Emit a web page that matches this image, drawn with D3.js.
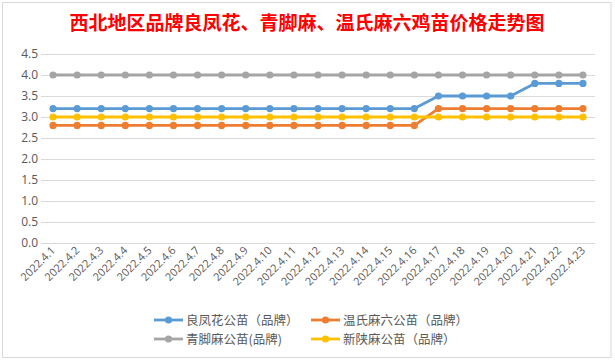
<!DOCTYPE html>
<html>
<head>
<meta charset="utf-8">
<script src="https://cdn.jsdelivr.net/npm/d3@7"></script>
<style>
  body { margin: 0; background: #fff; }
  text { font-family: "Noto Sans CJK SC", "Open Sans", sans-serif; }
</style>
</head>
<body>
<div id="content"></div>
<script>
// data
let dates = ["2022.4.1", "2022.4.2", "2022.4.3", "2022.4.4", "2022.4.5", "2022.4.6", "2022.4.7", "2022.4.8",
    "2022.4.9", "2022.4.10", "2022.4.11", "2022.4.12", "2022.4.13", "2022.4.14", "2022.4.15", "2022.4.16",
    "2022.4.17", "2022.4.18", "2022.4.19", "2022.4.20", "2022.4.21", "2022.4.22", "2022.4.23"];
let liangfenghua = [3.2, 3.2, 3.2, 3.2, 3.2, 3.2, 3.2, 3.2, 3.2, 3.2, 3.2, 3.2, 3.2, 3.2, 3.2, 3.2,
    3.5, 3.5, 3.5, 3.5, 3.8, 3.8, 3.8];
let wenshima = [2.8, 2.8, 2.8, 2.8, 2.8, 2.8, 2.8, 2.8, 2.8, 2.8, 2.8, 2.8, 2.8, 2.8, 2.8, 2.8,
    3.2, 3.2, 3.2, 3.2, 3.2, 3.2, 3.2];
let qingjiaoma = [4.0, 4.0, 4.0, 4.0, 4.0, 4.0, 4.0, 4.0, 4.0, 4.0, 4.0, 4.0, 4.0, 4.0, 4.0, 4.0,
    4.0, 4.0, 4.0, 4.0, 4.0, 4.0, 4.0];
let xinshanma = [3.0, 3.0, 3.0, 3.0, 3.0, 3.0, 3.0, 3.0, 3.0, 3.0, 3.0, 3.0, 3.0, 3.0, 3.0, 3.0,
    3.0, 3.0, 3.0, 3.0, 3.0, 3.0, 3.0];
let seriesNames = ["良凤花公苗（品牌）", "温氏麻六公苗（品牌）", "青脚麻公苗(品牌)", "新陕麻公苗（品牌）"];
let yTicks = [0, 0.5, 1, 1.5, 2, 2.5, 3, 3.5, 4, 4.5];

let colors = ["#5B9BD5", "#ED7D31", "#A5A5A5", "#FFC000"];
let series = [liangfenghua, wenshima, qingjiaoma, xinshanma];

let width = 615,
    height = 362;

let svg = d3.select("#content")
    .append("svg")
    .attr("width", width)
    .attr("height", height);

// chart frame
svg.append("rect")
    .attr("x", 2.5).attr("y", 2.5)
    .attr("width", 608.5).attr("height", 355)
    .attr("fill", "#fff")
    .attr("stroke", "#D9D9D9");

// title
svg.append("text")
    .attr("x", 307)
    .attr("y", 30)
    .attr("text-anchor", "middle")
    .style("font-size", "19px")
    .style("font-weight", "bold")
    .style("fill", "#FF0000")
    .text("西北地区品牌良凤花、青脚麻、温氏麻六鸡苗价格走势图");

let x = d3.scaleBand()
    .domain(dates)
    .range([41, 595]);

let y = d3.scaleLinear()
    .domain([0, 4.5])
    .range([243, 54]);

// gridlines + y labels
let yAxis = svg.append("g")
    .attr("transform", "translate(41,0)")
    .call(d3.axisLeft(y).tickValues(yTicks).tickFormat(d3.format(".1f"))
        .tickSize(-554).tickPadding(3));
yAxis.select(".domain").remove();
yAxis.selectAll(".tick line").attr("stroke", "#D9D9D9");
yAxis.selectAll(".tick text")
    .style("font-size", "12px")
    .style("font-family", "'Open Sans', sans-serif")
    .style("fill", "#595959");

// x labels, rotated
svg.append("g")
    .selectAll("text")
    .data(dates)
    .enter()
    .append("text")
    .attr("transform", d => "translate(" + (x(d) + x.bandwidth() / 2 + 3) + ",251) rotate(-45)")
    .attr("text-anchor", "end")
    .style("font-size", "11px")
    .style("font-family", "'Open Sans', sans-serif")
    .style("fill", "#595959")
    .text(d => d);

let line = d3.line()
    .x((d, i) => x(dates[i]) + x.bandwidth() / 2)
    .y(d => y(d));

series.forEach((s, k) => {
    let g = svg.append("g");
    g.append("path")
        .datum(s)
        .attr("d", line)
        .attr("fill", "none")
        .attr("stroke", colors[k])
        .attr("stroke-width", 2.8)
        .attr("stroke-linejoin", "round");
    g.selectAll("circle")
        .data(s)
        .enter()
        .append("circle")
        .attr("cx", (d, i) => x(dates[i]) + x.bandwidth() / 2)
        .attr("cy", d => y(d))
        .attr("r", 3.6)
        .attr("fill", colors[k]);
});

// legend
let legendPos = [[154, 320], [311, 320], [154, 339], [311, 339]];
let legend = svg.append("g")
    .selectAll("g")
    .data(seriesNames)
    .enter()
    .append("g")
    .attr("transform", (d, i) => "translate(" + legendPos[i][0] + "," + legendPos[i][1] + ")");
legend.append("line")
    .attr("x1", 0).attr("x2", 29)
    .attr("stroke", (d, i) => colors[i])
    .attr("stroke-width", 2.8);
legend.append("circle")
    .attr("cx", 14.5).attr("r", 3.6)
    .attr("fill", (d, i) => colors[i]);
legend.append("text")
    .attr("x", 32)
    .attr("y", 4.5)
    .style("font-size", "12.5px")
    .style("fill", "#595959")
    .text(d => d);
</script>
</body>
</html>
